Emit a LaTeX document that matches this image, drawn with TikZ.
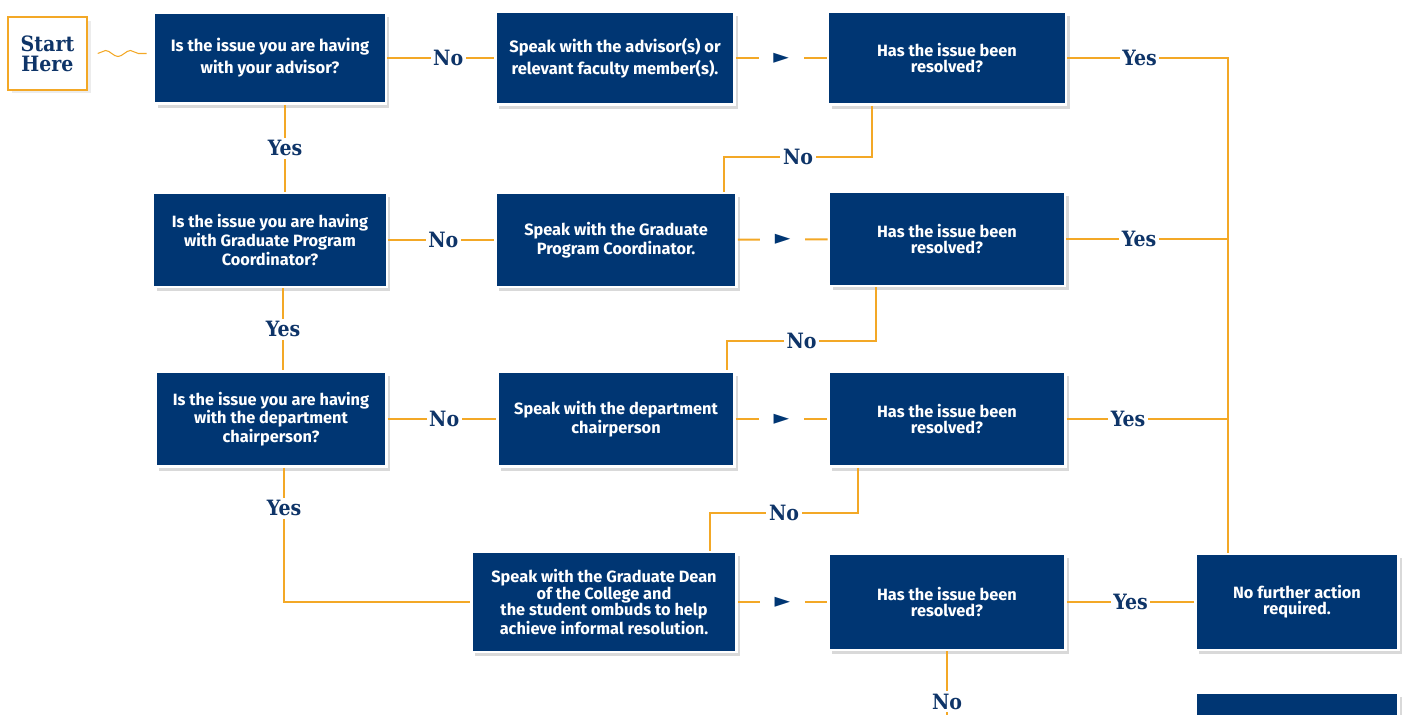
\documentclass[tikz,border=0pt]{standalone}
\usepackage{fontspec}
\usetikzlibrary{positioning,calc,decorations.pathmorphing,shadows}
\newfontfamily\boxfont{Fira Sans}
\newfontfamily\tagfont{DejaVu Serif Condensed}
\newfontfamily\symfont{DejaVu Sans}
\definecolor{flowNavy}{RGB}{0,54,115}
\definecolor{flowInk}{RGB}{14,52,104}
\definecolor{flowGold}{RGB}{243,168,38}

\begin{document}
\begin{tikzpicture}[x=0.02cm,y=-0.02cm,
  box/.style={draw=white,line width=1.5pt,fill=flowNavy,text=white,align=center,
    minimum width=4.72cm,minimum height=1.88cm,inner sep=2pt,
    font=\boxfont\bfseries\fontsize{9.3}{9.3}\selectfont,
    drop shadow={shadow xshift=2pt,shadow yshift=-2.5pt,opacity=0.3}},
  widelead/.style={font=\boxfont\bfseries\fontsize{9.4}{12.5}\selectfont},
  conn/.style={draw=flowGold,line width=1.1pt},
  tag/.style={fill=white,text=flowInk,inner sep=1.5pt,font=\tagfont\bfseries\fontsize{12}{12}\selectfont},
  pointer/.style={fill=white,text=flowNavy,minimum width=0.9cm,inner sep=1pt,font=\symfont\fontsize{11.5}{11.5}\selectfont}]
\useasboundingbox (0,0) rectangle (1405,715);

% start
\node[draw=flowGold,line width=0.8pt,fill=white,text=flowInk,align=center,minimum width=1.58cm,minimum height=1.46cm,
  font=\tagfont\bfseries\fontsize{12}{11.4}\selectfont,drop shadow={shadow xshift=2pt,shadow yshift=-2pt,opacity=0.15}] (start) at (47.5,53.5) {Start\\Here};

% row 1
\node[box,widelead,minimum width=4.64cm,minimum height=1.82cm] (q1) at (270,58) {Is the issue you are having\\with your advisor?};
\node[box,widelead,minimum width=4.78cm,minimum height=1.86cm] (a1) at (615,58) {Speak with the advisor(s) or\\relevant faculty member(s).};
\node[box,minimum width=4.76cm,minimum height=1.86cm] (r1) at (947,58) {Has the issue been\\resolved?};

% row 2
\node[box,minimum width=4.68cm] (q2) at (270,240) {Is the issue you are having\\with Graduate Program\\Coordinator?};
\node[box,minimum width=4.82cm] (a2) at (616,240) {Speak with the Graduate\\Program Coordinator.};
\node[box] (r2) at (947,239) {Has the issue been\\resolved?};

% row 3
\node[box,minimum width=4.62cm,minimum height=1.9cm] (q3) at (271,419) {Is the issue you are having\\with the department\\chairperson?};
\node[box,minimum width=4.74cm,minimum height=1.9cm] (a3) at (616,419) {Speak with the department\\chairperson};
\node[box,minimum width=4.74cm,minimum height=1.9cm] (r3) at (947,419) {Has the issue been\\resolved?};

% row 4
\node[box,minimum width=5.3cm,minimum height=2cm] (a4) at (604,602) {Speak with the Graduate Dean\\of the College and\\the student ombuds to help\\achieve informal resolution.};
\node[box,minimum width=4.74cm,minimum height=1.92cm] (r4) at (947,602) {Has the issue been\\resolved?};
\node[box,minimum width=4.06cm,minimum height=1.92cm] (done) at (1297,602) {No further action\\required.};
\begin{scope}
\clip (0,0) rectangle (1405,715);
\node[box,minimum width=4.06cm,minimum height=1.92cm] (next) at (1297,741) {};
\end{scope}

\coordinate (bus) at (1228,58);
\coordinate (edge) at (947,715);

% connectors
\draw[conn,line width=0.6pt,decorate,decoration={snake,amplitude=0.06cm,segment length=0.5cm}]
  ([xshift=0.2cm]start.east) -- ([xshift=-0.12cm]q1.west |- start.east);
\draw[conn] (q1) -- node[tag,pos=0.57]{No} (a1);
\draw[conn] (q2) -- node[tag,pos=0.52]{No} (a2);
\draw[conn] (q3) -- node[tag,pos=0.52]{No} (a3);
\draw[conn] (a1) -- node[pointer]{►} (r1);
\draw[conn] (a2) -- node[pointer]{►} (r2);
\draw[conn] (a3) -- node[pointer]{►} (r3);
\draw[conn] (a4) -- node[pointer]{►} (r4);

\draw[conn] (285,0 |- q1.south) -- node[tag]{Yes} (285,0 |- q2.north);
\draw[conn] (283,0 |- q2.south) -- node[tag]{Yes} (283,0 |- q3.north);
\draw[conn] (284,0 |- q3.south) |- node[tag,pos=0.15]{Yes} (a4.west);

\draw[conn] (872,0 |- r1.south) |- node[tag,pos=0.75]{No} (724,157) -- (724,0 |- a2.north);
\draw[conn] (876,0 |- r2.south) |- node[tag,pos=0.75]{No} (727,341) -- (727,0 |- a3.north);
\draw[conn] (858,0 |- r3.south) |- node[tag,pos=0.75]{No} (710,513) -- (710,0 |- a4.north);
\draw[conn] (r4) -- node[tag,pos=0.79]{No} (edge);

\draw[conn] (r1) -- node[tag,pos=0.45]{Yes} (bus) -- (bus |- done.north);
\draw[conn] (r2) -- node[tag,pos=0.45]{Yes} (r2 -| bus);
\draw[conn] (r3) -- node[tag,pos=0.38]{Yes} (r3 -| bus);
\draw[conn] (r4) -- node[tag]{Yes} (done);
\end{tikzpicture}
\end{document}
